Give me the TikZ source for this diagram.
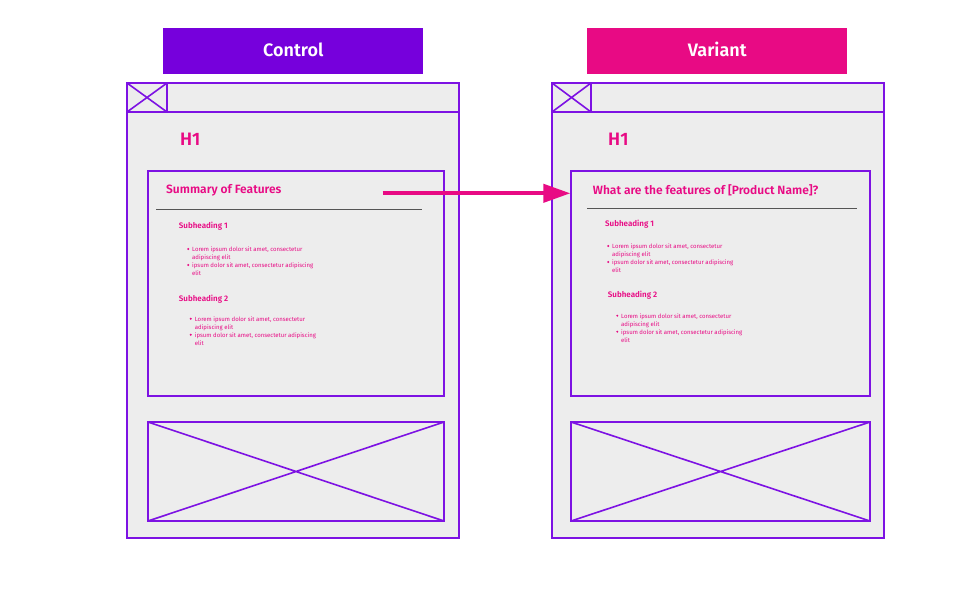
\documentclass[tikz,border=0pt]{standalone}
\usepackage{fontspec}
\setmainfont{Fira Sans}[BoldFont={Fira Sans SemiBold}]
\usetikzlibrary{arrows.meta}
\definecolor{ctrlpurple}{HTML}{7600DC}
\definecolor{varpink}{HTML}{E80A84}
\definecolor{wireline}{HTML}{7D12E3}
\definecolor{pagegray}{HTML}{EDEDED}
\definecolor{rulegray}{HTML}{555555}
\tikzset{
  frame/.style={draw=wireline, line width=1.8pt, fill=pagegray},
  cross/.style={draw=wireline, line width=1.6pt},
  header/.style={text=white, font=\fontsize{18}{20}\selectfont\bfseries, minimum width=260pt, minimum height=46pt, inner sep=0pt},
  headline/.style={text=varpink, font=\fontsize{18}{20}\selectfont\bfseries, inner sep=0pt, anchor=west},
  titletext/.style={text=varpink, font=\fontsize{12}{14}\selectfont\bfseries, inner sep=0pt, anchor=west},
  subtext/.style={text=varpink, font=\fontsize{8}{10}\selectfont\bfseries, inner sep=0pt, anchor=west},
  bodytext/.style={text=varpink, font=\fontsize{6}{8}\selectfont, inner sep=0pt, anchor=north west, align=left},
  dot/.style={fill=varpink}
}
\begin{document}
\begin{tikzpicture}[x=1pt, y=-1pt]
            \useasboundingbox (0,0) rectangle (960,600);
            \node[header, fill=ctrlpurple] (ctrl) at (293.3,50.6) {\raisebox{2pt}{Control}};
            \node[header, fill=varpink] (var) at (717.3,50.6) {\raisebox{2pt}{Variant}};

            \filldraw[frame] (127,83) rectangle (459,538);
            \draw[frame] (127,83) rectangle (459,112);
            \draw[cross] (127,83) rectangle (167,112) (127,83) -- (167,112) (167,83) -- (127,112);
            \node[frame, minimum width=296pt, minimum height=225pt, inner sep=0pt] (ctrlbox) at (296,283.5) {};
            \draw[cross] (148,422) rectangle (444,521) (148,422) -- (444,521) (444,422) -- (148,521);
            \draw[rulegray, line width=0.8pt] (156,209) -- (422,209);
            \node[headline] (ctrlh) at (180,139) {H1};
            \node[titletext] (ctrltitle) at (166,190) {Summary of Features};
            \node[subtext] (ctrlsuba) at (178.7,226.5) {Subheading 1};
            \fill[dot] (188.3,249) circle (1.1pt) (188.3,265) circle (1.1pt);
            \node[bodytext] (ctrla) at (192,246.6) {Lorem ipsum dolor sit amet, consectetur\\adipiscing elit};
            \node[bodytext] (ctrlb) at (192,262.6) {ipsum dolor sit amet, consectetur adipiscing\\elit};
            \node[subtext] (ctrlsubb) at (178.7,298.8) {Subheading 2};
            \fill[dot] (190.7,318.7) circle (1.1pt) (190.7,334.7) circle (1.1pt);
            \node[bodytext] (ctrlc) at (194.7,316.3) {Lorem ipsum dolor sit amet, consectetur\\adipiscing elit};
            \node[bodytext] (ctrld) at (194.7,332.3) {ipsum dolor sit amet, consectetur adipiscing\\elit};

            \filldraw[frame] (552,83) rectangle (884,538);
            \draw[frame] (552,83) rectangle (884,112);
            \draw[cross] (552,83) rectangle (591,112) (552,83) -- (591,112) (591,83) -- (552,112);
            \node[frame, minimum width=299pt, minimum height=225pt, inner sep=0pt] (varbox) at (720.8,283.5) {};
            \draw[cross] (571,422) rectangle (870,521) (571,422) -- (870,521) (870,422) -- (571,521);
            \draw[rulegray, line width=0.8pt] (587,208.5) -- (857,208.5);
            \node[headline] (varh) at (608,139) {H1};
            \node[titletext] (vartitle) at (592.7,190) {What are the features of [Product Name]?};
            \node[subtext] (varsuba) at (605,223.8) {Subheading 1};
            \fill[dot] (608.3,246) circle (1.1pt) (608.3,262) circle (1.1pt);
            \node[bodytext] (vara) at (612,243.6) {Lorem ipsum dolor sit amet, consectetur\\adipiscing elit};
            \node[bodytext] (varb) at (612,259.6) {ipsum dolor sit amet, consectetur adipiscing\\elit};
            \node[subtext] (varsubb) at (607.7,295.5) {Subheading 2};
            \fill[dot] (617.3,315.7) circle (1.1pt) (617.3,331.7) circle (1.1pt);
            \node[bodytext] (varc) at (621,313.3) {Lorem ipsum dolor sit amet, consectetur\\adipiscing elit};
            \node[bodytext] (vard) at (621,329.3) {ipsum dolor sit amet, consectetur adipiscing\\elit};

            \coordinate (arrowfrom) at (382.5,193.3);
            \draw[varpink, line width=4pt, -{Triangle[length=27pt, width=18pt]}] (arrowfrom) -- (varbox.west |- arrowfrom);
\end{tikzpicture}
\end{document}
